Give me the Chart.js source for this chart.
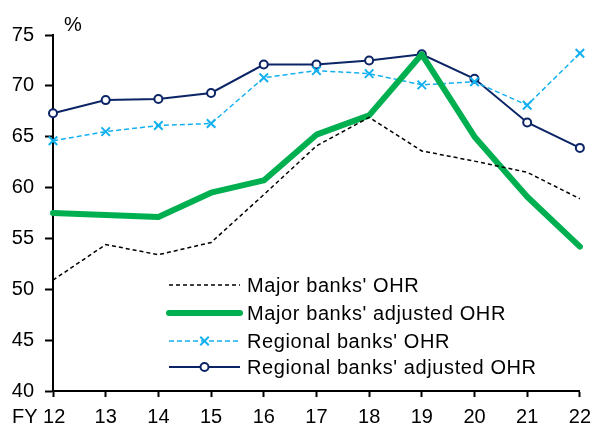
<!DOCTYPE html>
<html>
<head>
<meta charset="utf-8">
<script src="https://cdn.jsdelivr.net/npm/chart.js@4/dist/chart.umd.min.js"></script>
<style>
  html, body { margin: 0; padding: 0; background: #fff; }
  #wrap { width: 599px; height: 432px; position: relative; }
</style>
</head>
<body>
<div id="wrap"><canvas id="chart"></canvas></div>
<script>
// data
const years = ['12', '13', '14', '15', '16', '17', '18', '19', '20', '21', '22'];
const majorOHR = [50.9, 54.4, 53.4, 54.6, 59.3, 64.1, 66.9, 63.6, 62.6, 61.5, 58.9];
const majorAdjOHR = [57.5, 57.3, 57.1, 59.5, 60.7, 65.2, 67.1, 73.1, 65.0, 59.1, 54.2];
const regionalOHR = [64.6, 65.5, 66.1, 66.3, 70.8, 71.5, 71.2, 70.1, 70.4, 68.1, 73.2];
const regionalAdjOHR = [67.3, 68.6, 68.7, 69.3, 72.1, 72.1, 72.5, 73.1, 70.7, 66.4, 63.9];
const yTicks = [40, 45, 50, 55, 60, 65, 70, 75];

const FONT = "'Liberation Sans', Arial, sans-serif";

// Legend drawn by hand: line + marker + text, like the original
const legendPlugin = {
  id: 'sideLegend',
  afterDraw(chart) {
    const ctx = chart.ctx;
    const x0 = 169, x1 = 240, tx = 247;
    const rows = [285, 313, 341, 367];
    chart.data.datasets.forEach((ds, i) => {
      const y = rows[i];
      ctx.save();
      ctx.strokeStyle = ds.borderColor;
      ctx.lineWidth = ds.borderWidth;
      ctx.lineCap = ds.borderWidth > 3 ? 'round' : 'butt';
      ctx.setLineDash(ds.borderDash || []);
      ctx.beginPath();
      ctx.moveTo(x0, y);
      ctx.lineTo(x1, y);
      ctx.stroke();
      ctx.setLineDash([]);
      if (ds.pointRadius > 0) {
        ctx.fillStyle = ds.pointBackgroundColor;
        ctx.strokeStyle = ds.pointBorderColor;
        ctx.lineWidth = ds.pointBorderWidth;
        Chart.helpers.drawPoint(ctx, {
          pointStyle: ds.pointStyle,
          radius: ds.pointRadius,
          borderWidth: ds.pointBorderWidth
        }, (x0 + x1) / 2, y);
      }
      ctx.fillStyle = '#000';
      ctx.font = '20px ' + FONT;
      ctx.letterSpacing = '0.6px';
      ctx.textBaseline = 'middle';
      ctx.fillText(ds.label, tx, y + 1);
      ctx.restore();
    });

    // "%" and "FY 12" labels
    ctx.save();
    ctx.fillStyle = '#000';
    ctx.font = '20px ' + FONT;
    ctx.textBaseline = 'middle';
    ctx.fillText('%', 64, 25);
    ctx.fillText('FY ' + years[0], 12, 417);
    ctx.restore();
  }
};

new Chart(document.getElementById('chart'), {
  type: 'line',
  data: {
    labels: years,
    datasets: [
      {
        label: "Major banks' OHR",
        data: majorOHR,
        borderColor: '#000000',
        borderWidth: 1.5,
        borderDash: [4, 3],
        pointRadius: 0,
        tension: 0
      },
      {
        label: "Major banks' adjusted OHR",
        data: majorAdjOHR,
        borderColor: '#00b050',
        borderWidth: 6,
        borderJoinStyle: 'round',
        borderCapStyle: 'round',
        pointRadius: 0,
        tension: 0
      },
      {
        label: "Regional banks' OHR",
        data: regionalOHR,
        borderColor: '#13b0ef',
        borderWidth: 1.5,
        borderDash: [5, 3],
        pointStyle: 'crossRot',
        pointRadius: 6,
        pointBorderWidth: 2,
        pointBorderColor: '#13b0ef',
        pointBackgroundColor: '#13b0ef',
        tension: 0
      },
      {
        label: "Regional banks' adjusted OHR",
        data: regionalAdjOHR,
        borderColor: '#0b2466',
        borderWidth: 2,
        pointStyle: 'circle',
        pointRadius: 4,
        pointBorderWidth: 2,
        pointBorderColor: '#0b2466',
        pointBackgroundColor: '#ffffff',
        tension: 0
      }
    ]
  },
  options: {
    responsive: true,
    maintainAspectRatio: false,
    animation: false,
    layout: { padding: { top: 35, right: 14, left: 0, bottom: 0 } },
    plugins: {
      legend: { display: false },
      tooltip: { enabled: false }
    },
    scales: {
      x: {
        offset: false,
        grid: { drawOnChartArea: false, tickLength: 6, tickColor: '#000', tickWidth: 2 },
        border: { color: '#000', width: 2 },
        ticks: {
          color: '#000',
          font: { family: FONT, size: 20 },
          padding: 8,
          maxRotation: 0,
          // first label is drawn together with "FY" by the plugin
          callback: (v, i) => i === 0 ? '' : years[i]
        },
        afterFit: s => { s.height = 41; }
      },
      y: {
        min: 40,
        max: 75,
        afterBuildTicks: s => { s.ticks = yTicks.map(v => ({ value: v })); },
        grid: { drawOnChartArea: false, tickLength: 8, tickColor: '#000', tickWidth: 2 },
        border: { color: '#000', width: 2 },
        ticks: { color: '#000', font: { family: FONT, size: 20 }, padding: 11 },
        afterFit: s => { s.width = 53; }
      }
    }
  },
  plugins: [legendPlugin]
});
</script>
</body>
</html>
